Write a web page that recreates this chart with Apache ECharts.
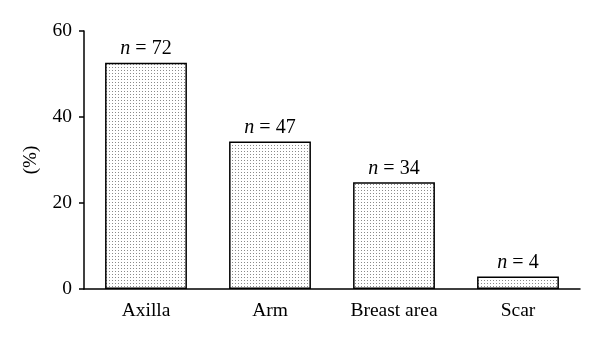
<!DOCTYPE html>
<html>
<head>
<meta charset="utf-8">
<script src="https://cdn.jsdelivr.net/npm/echarts@6/dist/echarts.min.js"></script>
<style>html,body{margin:0;padding:0;background:#fff}#c{width:600px;height:347px}</style>
</head>
<body>
<div id="c"></div>
<script>
const categories = ['Axilla', 'Arm', 'Breast area', 'Scar'];
const percentValues = [52.6, 34.3, 24.8, 2.9];
const nCounts = [72, 47, 34, 4];
const yTicks = [0, 20, 40, 60];

function dotPattern() {
  const cv = document.createElement('canvas');
  cv.width = 3; cv.height = 3;
  const ctx = cv.getContext('2d');
  ctx.fillStyle = '#ffffff';
  ctx.fillRect(0, 0, 3, 3);
  ctx.fillStyle = '#8a8a8a';
  ctx.fillRect(1, 1, 1, 1);
  return cv;
}

const chart = echarts.init(document.getElementById('c'), null, {renderer: 'canvas'});
const font = 'Liberation Serif';
chart.setOption({
  animation: false,
  backgroundColor: '#ffffff',
  grid: {left: 84, right: 20, top: 31, bottom: 58},
  xAxis: {
    type: 'category',
    data: categories,
    axisLine: {lineStyle: {color: '#000', width: 1.5}},
    axisTick: {alignWithLabel: true, length: 5, lineStyle: {color: '#000', width: 1.5}},
    axisLabel: {color: '#000', fontFamily: font, fontSize: 19.5, margin: 12}
  },
  yAxis: {
    type: 'value',
    min: 0, max: 60, interval: 20,
    name: '(%)',
    nameLocation: 'middle',
    nameGap: 43,
    nameRotate: 90,
    nameTextStyle: {color: '#000', fontFamily: font, fontSize: 19},
    splitLine: {show: false},
    axisLine: {show: true, lineStyle: {color: '#000', width: 1.5}},
    axisTick: {show: true, length: 5, lineStyle: {color: '#000', width: 1.5}},
    axisLabel: {color: '#000', fontFamily: font, fontSize: 19.5, margin: 12,
      formatter: v => yTicks.includes(v) ? String(v) : ''}
  },
  series: [{
    type: 'bar',
    data: percentValues,
    barCategoryGap: '34%',
    itemStyle: {
      color: {image: dotPattern(), repeat: 'repeat'},
      borderColor: '#000',
      borderWidth: 1.5
    },
    label: {
      show: true,
      position: 'top',
      distance: 4,
      formatter: p => '{i|n} {t|= ' + nCounts[p.dataIndex] + '}',
      color: '#000',
      fontFamily: font,
      fontSize: 20,
      rich: {
        i: {fontStyle: 'italic', fontFamily: font, fontSize: 20, color: '#000'},
        t: {fontFamily: font, fontSize: 20, color: '#000'}
      }
    }
  }]
});
</script>
</body>
</html>
